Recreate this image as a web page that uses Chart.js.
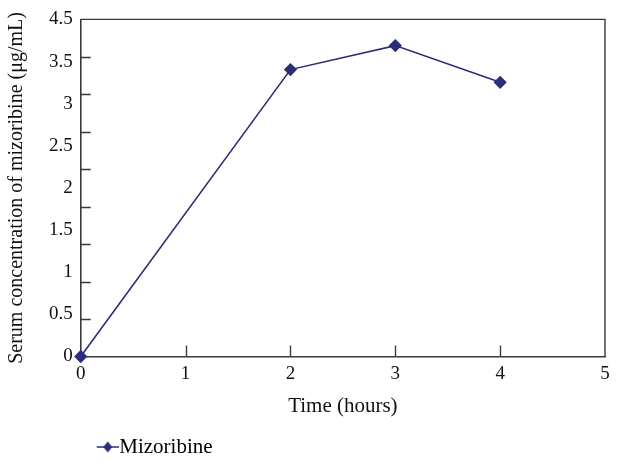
<!DOCTYPE html>
<html>
<head>
<meta charset="utf-8">
<script src="https://cdn.jsdelivr.net/npm/chart.js@4"></script>
<style>
  html, body { margin: 0; padding: 0; background: #fff; }
  #wrap { width: 619px; height: 464px; }
</style>
</head>
<body>
<div id="wrap"><canvas id="chart" width="619" height="464"></canvas></div>
<script>
// data (y in units of the plotted 0-4.5 axis)
const timeHours = [0, 2, 3, 4];
const mizoribine = [0, 3.83, 4.15, 3.66];

// tick labels as printed on the figure (the "4" label is missing in the original)
const yTickLabels = ['0', '0.5', '1', '1.5', '2', '2.5', '3', '3.5', '4.5'];
const yTickMarks = [0.5, 1, 1.5, 2, 2.5, 3, 3.5, 4];
const xTickMarks = [1, 2, 3, 4];

const lineColor = '#2b2d78';
const axisColor = '#3a3a3a';
const serif = "'Liberation Serif', 'Times New Roman', serif";

// legend icon: line with a diamond, drawn on a small canvas
// (left part is left transparent so the icon sits next to the text)
function makeLegendIcon() {
  const c = document.createElement('canvas');
  c.width = 42; c.height = 14;
  const g = c.getContext('2d');
  g.strokeStyle = lineColor;
  g.lineWidth = 1.5;
  g.beginPath(); g.moveTo(20, 7); g.lineTo(42, 7); g.stroke();
  g.fillStyle = lineColor;
  g.beginPath();
  g.moveTo(31, 1.5); g.lineTo(35.5, 7); g.lineTo(31, 12.5); g.lineTo(26.5, 7);
  g.closePath(); g.fill();
  return c;
}
const legendIcon = makeLegendIcon();

// inner tick marks plus the top/right frame
const frame = {
  id: 'frame',
  beforeDatasetsDraw(chart) {
    const { ctx, chartArea: a, scales } = chart;
    ctx.save();
    ctx.strokeStyle = axisColor;
    ctx.lineWidth = 1.4;
    ctx.beginPath();
    ctx.moveTo(a.left, a.top);
    ctx.lineTo(a.right, a.top);
    ctx.lineTo(a.right, a.bottom);
    yTickMarks.forEach(v => {
      const py = Math.round(scales.y.getPixelForValue(v)) + 0.5;
      ctx.moveTo(a.left, py);
      ctx.lineTo(a.left + 10, py);
    });
    xTickMarks.forEach(v => {
      const px = Math.round(scales.x.getPixelForValue(v)) + 0.5;
      ctx.moveTo(px, a.bottom);
      ctx.lineTo(px, a.bottom - 11);
    });
    ctx.stroke();
    ctx.restore();
  }
};

new Chart(document.getElementById('chart'), {
  type: 'line',
  data: {
    datasets: [{
      label: 'Mizoribine',
      data: timeHours.map((t, i) => ({ x: t, y: mizoribine[i] })),
      borderColor: lineColor,
      backgroundColor: lineColor,
      borderWidth: 1.6,
      pointStyle: 'rectRot',
      pointRadius: 5.5,
      pointHoverRadius: 5.5,
      clip: false,
      tension: 0
    }]
  },
  options: {
    responsive: false,
    animation: false,
    layout: { padding: { top: 0.5, right: 14, bottom: -3.5, left: 5 } },
    plugins: {
      tooltip: { enabled: false },
      legend: {
        position: 'bottom',
        align: 'start',
        fullSize: false,
        labels: {
          usePointStyle: true,
          pointStyle: legendIcon,
          pointStyleWidth: 22,
          color: '#111',
          padding: 6,
          font: { family: serif, size: 21 },
          generateLabels(chart) {
            return [{
              text: chart.data.datasets[0].label,
              pointStyle: legendIcon,
              fillStyle: lineColor,
              strokeStyle: lineColor,
              lineWidth: 0,
              datasetIndex: 0
            }];
          }
        }
      }
    },
    scales: {
      x: {
        type: 'linear',
        min: 0,
        max: 5,
        ticks: { stepSize: 1, padding: 6.5, color: '#111', font: { family: serif, size: 19 } },
        grid: { display: false, drawTicks: false },
        border: { display: true, color: axisColor, width: 1.6 },
        title: {
          display: true,
          text: 'Time (hours)',
          color: '#111',
          font: { family: serif, size: 21 },
          padding: { top: 1.5, bottom: 11.5 }
        }
      },
      y: {
        min: 0,
        max: 4.5,
        afterBuildTicks(scale) {
          const n = yTickLabels.length - 1;
          scale.ticks = yTickLabels.map((t, i) => ({ value: i * 4.5 / n }));
        },
        ticks: {
          padding: 8,
          color: '#111',
          font: { family: serif, size: 19 },
          callback: (v, i) => yTickLabels[i]
        },
        grid: { display: false, drawTicks: false },
        border: { display: true, color: axisColor, width: 1.6 },
        title: {
          display: true,
          text: 'Serum concentration of mizoribine (μg/mL)',
          color: '#111',
          font: { family: serif, size: 20 },
          padding: { top: 0, bottom: 12 }
        }
      }
    }
  },
  plugins: [frame]
});
</script>
</body>
</html>
